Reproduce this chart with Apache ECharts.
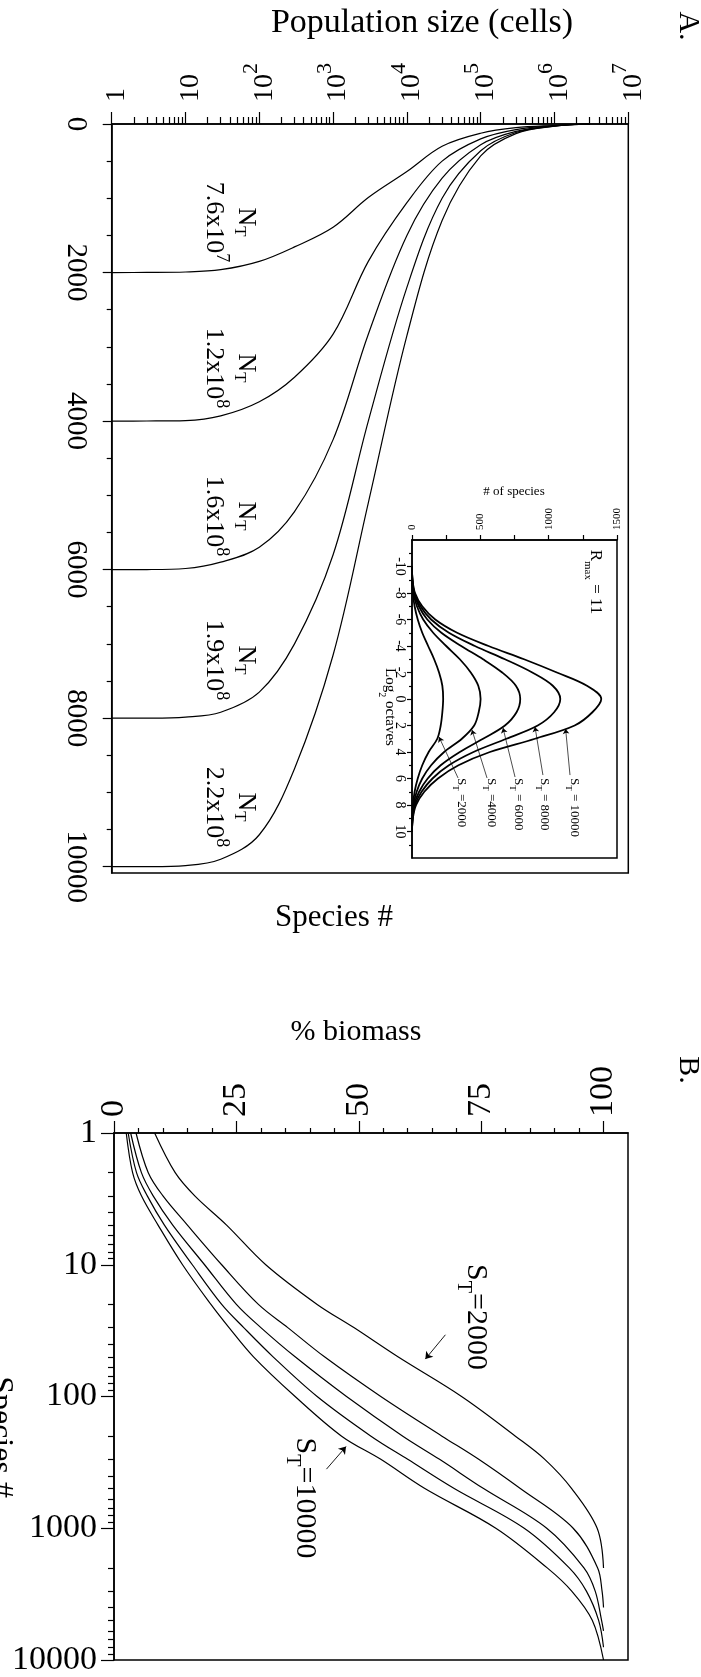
<!DOCTYPE html>
<html>
<head>
<meta charset="utf-8">
<title>Species abundance</title>
<script src="https://cdn.jsdelivr.net/npm/echarts@6.0.0/dist/echarts.min.js"></script>
<style>
html,body{margin:0;padding:0;background:#ffffff;}
#chart{width:701px;height:1677px;}
</style>
</head>
<body>
<div id="chart"></div>
<script>
// ---------------- Panel A: species rank vs population size ----------------
const popLevels   = [3e6, 1e6, 3e5, 1e5, 3e4, 1e4, 3e3, 1e3, 300, 100, 30, 10, 3, 1];
const rankST2000  = [0, 20, 50, 125, 300, 640, 990, 1390, 1655, 1850, 1962, 1993, 1999, 2000];
const rankST4000  = [0, 22, 75, 200, 500, 1060, 1850, 2830, 3410, 3740, 3930, 3993, 3999, 4000];
const rankST6000  = [0, 25, 100, 280, 730, 1500, 2830, 4250, 5220, 5700, 5900, 5985, 5999, 6000];
const rankST8000  = [0, 28, 115, 360, 1000, 2200, 4000, 5800, 7000, 7650, 7920, 7985, 7999, 8000];
const rankST10000 = [0, 30, 130, 430, 1300, 2850, 5100, 7150, 8680, 9570, 9900, 9985, 9999, 10000];
const popTicks      = [1, 10, 100, 1e3, 1e4, 1e5, 1e6, 1e7];
const speciesTicksA = [0, 2000, 4000, 6000, 8000, 10000];
const ntMantissa = ['7.6', '1.2', '1.6', '1.9', '2.2'];
const ntExponent = ['7', '8', '8', '8', '8'];

// ---------------- Inset: species per log2 octave ----------------
const octaves      = [-10, -9, -8, -7, -6, -5, -4, -3, -2, -1, 0, 1, 2, 3, 4, 5, 6, 7, 8, 9, 10];
const countST10000 = [0, 4, 22, 75, 170, 330, 560, 820, 1060, 1280, 1385, 1320, 1190, 900, 570, 340, 190, 90, 30, 6, 0];
const countST8000  = [0, 3, 18, 62, 140, 270, 460, 680, 880, 1030, 1085, 1040, 920, 690, 450, 270, 150, 70, 22, 5, 0];
const countST6000  = [0, 3, 15, 50, 112, 215, 360, 520, 660, 760, 792, 765, 680, 520, 350, 210, 115, 52, 16, 4, 0];
const countST4000  = [0, 2, 11, 36, 82, 155, 250, 350, 430, 485, 502, 488, 455, 365, 235, 140, 75, 34, 11, 3, 0];
const countST2000  = [0, 1, 6, 19, 42, 75, 118, 162, 198, 222, 228, 222, 210, 185, 122, 75, 42, 19, 7, 2, 0];
const insetTotals  = ['10000', '8000', '6000', '4000', '2000'];
const countTicks   = [0, 250, 500, 750, 1000, 1250, 1500];
const countLabels  = [0, 500, 1000, 1500];
const octaveTicks  = [-10, -8, -6, -4, -2, 0, 2, 4, 6, 8, 10];
const octaveMinor  = [-11, -9, -7, -5, -3, -1, 1, 3, 5, 7, 9, 11];

// ---------------- Panel B: cumulative % biomass vs species rank ----------------
const speciesLevelsB = [1, 2, 3, 5, 10, 20, 30, 50, 100, 200, 300, 500, 1000, 2000, 3000, 5000];
const totalSpeciesB  = [2000, 4000, 6000, 8000, 10000];
const biomassST2000  = [8.3, 12.5, 16.5, 23, 31, 41.5, 49, 58, 71, 82, 88, 93.5, 98.7, 100];
const biomassST4000  = [4.5, 7.0, 10, 15, 22, 29.5, 35.5, 43, 54.5, 67, 74.5, 83, 93.8, 98.8, 99.7, 100];
const biomassST6000  = [3.4, 5.6, 8, 12, 18.5, 25, 30, 37, 47.5, 59, 66.5, 75.5, 88.4, 96, 98.3, 99.6, 100];
const biomassST8000  = [2.9, 4.6, 6.8, 10.3, 16, 22, 26.5, 32.5, 41.5, 52.5, 60, 69.5, 83.8, 93, 96.5, 99.0, 100];
const biomassST10000 = [2.5, 3.8, 5.6, 9, 14, 19.8, 23.5, 28.5, 37, 46.5, 54.5, 63.5, 78, 88.5, 93.5, 97.7, 100];
const biomassTicks   = [0, 25, 50, 75, 100];
const speciesTicksB  = [1, 10, 100, 1000, 10000];

// ---------------- helpers ----------------
const F = "'Liberation Serif', 'Times New Roman', serif";
const black = '#000';

const popMinor = [];
for (let d = 1; d < 1e7; d *= 10) for (let k = 2; k < 10; k++) popMinor.push(d * k);
const speciesMinorA = [];
for (let v = 500; v < 10000; v += 500) if (v % 2000) speciesMinorA.push(v);
const biomassMinor = [];
for (let v = 5; v < 100; v += 5) if (v % 25) biomassMinor.push(v);
const speciesMinorB = [];
for (let d = 1; d < 1e4; d *= 10) for (let k = 2; k < 10; k++) speciesMinorB.push(d * k);

const plain = v => String(Math.round(v));

function axis(o) {
  return {
    gridIndex: o.grid, type: o.type || 'value', position: o.position,
    logBase: 10, min: o.min, max: o.max, inverse: !!o.inverse,
    splitLine: {show: false}, minorTick: {show: false}, minorSplitLine: {show: false},
    axisPointer: {show: false},
    axisLine: {show: o.line !== false, onZero: false, lineStyle: {color: black, width: 1.5}},
    axisTick: {show: true, inside: false, length: o.tickLen, customValues: o.ticks,
               lineStyle: {color: black, width: o.tickWidth || 1.2}},
    axisLabel: o.labels ? Object.assign({show: true, color: black, fontFamily: F,
               customValues: o.labels, hideOverlap: false, formatter: plain}, o.labelStyle) : {show: false}
  };
}

function line(xi, yi, data, width) {
  return {type: 'line', xAxisIndex: xi, yAxisIndex: yi, data: data, symbol: 'none', showSymbol: false,
          smooth: 0.35, clip: false, silent: true, lineStyle: {color: black, width: width},
          emphasis: {disabled: true}, z: 3};
}

function arrows(list, width, size) {
  return {silent: true, symbol: ['none', 'arrow'], symbolSize: size, animation: false,
          label: {show: false}, emphasis: {disabled: true},
          lineStyle: {color: black, width: width, type: 'solid'},
          data: list.map(a => [{coord: a[0]}, {coord: a[1]}])};
}

function pow10Label(v) {
  const e = Math.round(Math.log10(v));
  if (e === 0) return '{b|1}';
  if (e === 1) return '{b|10}';
  return '{b|10}{s|' + e + '}';
}

// ---------------- series ----------------
const rankSets = [rankST2000, rankST4000, rankST6000, rankST8000, rankST10000];
const countSets = [countST10000, countST8000, countST6000, countST4000, countST2000];
const biomassSets = [biomassST2000, biomassST4000, biomassST6000, biomassST8000, biomassST10000];

const series = [];
rankSets.forEach(r => series.push(line(0, 0, popLevels.map((p, i) => [p, r[i]]), 1.2)));
countSets.forEach(c => series.push(line(2, 2, octaves.map((o, i) => [c[i], o]), 1.8)));
// inset arrows (data coords: [count, octave])
series[5].markLine = arrows([
  [[1156, 5.74], [1124, 2.26]],
  [[958, 5.74], [900, 2.11]],
  [[754, 5.89], [666, 2.19]],
  [[549, 5.96], [439, 2.34]],
  [[337, 5.96], [198, 2.87]]
], 0.7, 5);
biomassSets.forEach((b, k) => {
  const total = totalSpeciesB[k];
  const lv = speciesLevelsB.filter(s => s < total).concat([total]);
  series.push(line(3, 4, b.map((v, i) => [v, lv[i]]), 1.2));
});
series[10].markLine = arrows([[[67.7, 34], [63.6, 52]]], 0.9, 7);
series[14].markLine = arrows([[[43.4, 356], [47.4, 240]]], 0.9, 7);

// ---------------- text annotations ----------------
function txt(x, y, text, size, rot, rich, align) {
  return {type: 'text', x: x, y: y, rotation: rot ? -Math.PI / 2 : 0, silent: true, z: 10,
          style: {text: text, fill: black, fontFamily: F, fontSize: size,
                  align: align || 'center', verticalAlign: 'middle', rich: rich}};
}
const richNT = {
  n: {fontFamily: F, fontSize: 26, lineHeight: 28, verticalAlign: 'top', fill: black},
  t: {fontFamily: F, fontSize: 17, verticalAlign: 'bottom', fill: black},
  b: {fontFamily: F, fontSize: 26, lineHeight: 30, verticalAlign: 'bottom', fill: black},
  s: {fontFamily: F, fontSize: 18, verticalAlign: 'top', fill: black}
};
const richSmallS = {
  s: {fontFamily: F, fontSize: 13, lineHeight: 17, verticalAlign: 'top', fill: black},
  t: {fontFamily: F, fontSize: 9, verticalAlign: 'bottom', fill: black}
};
const richBigS = {
  s: {fontFamily: F, fontSize: 30, lineHeight: 38, verticalAlign: 'top', fill: black},
  t: {fontFamily: F, fontSize: 20, verticalAlign: 'bottom', fill: black}
};
const richR = {
  r: {fontFamily: F, fontSize: 17, lineHeight: 22, verticalAlign: 'top', fill: black},
  m: {fontFamily: F, fontSize: 11, verticalAlign: 'bottom', fill: black}
};
const richLog = {
  a: {fontFamily: F, fontSize: 15, lineHeight: 20, verticalAlign: 'top', fill: black},
  b: {fontFamily: F, fontSize: 10, verticalAlign: 'bottom', fill: black}
};

const ntLabelX = 230;
const ntLabelY = [222, 368, 516, 660, 807];
const insetLabelX = [572, 542, 516, 489, 459];
const graphics = [
  txt(422, 23, 'Population size (cells)', 34, false),
  txt(688, 26, 'A.', 30, true),
  txt(334, 918, 'Species #', 31, false),
  txt(593, 582, '{r|R}{m|max}{r| = 11}', 17, true, richR),
  txt(514, 492, '# of species', 13, false),
  txt(387, 707, '{a|Log}{b|2}{a| octaves}', 15, true, richLog),
  txt(356, 1032, '% biomass', 30, false),
  txt(688, 1070, 'B.', 30, true),
  txt(472, 1317, '{s|S}{t|T}{s|=2000}', 30, true, richBigS),
  txt(301, 1498, '{s|S}{t|T}{s|=10000}', 30, true, richBigS),
  txt(0, 1437, 'Species #', 32, true)
];
ntMantissa.forEach((m, i) => {
  graphics.push(txt(ntLabelX, ntLabelY[i], '{n|N}{t|T}\n{b|' + m + 'x10}{s|' + ntExponent[i] + '}', 26, true, richNT));
});
insetTotals.forEach((t, i) => {
  const eq = i < 3 ? ' = ' : ' =';
  graphics.push(txt(insetLabelX[i], 778, '{s|S}{t|T}{s|' + eq + t + '}', 13, true, richSmallS, 'left'));
});

// ---------------- option ----------------
const option = {
  animation: false,
  backgroundColor: '#ffffff',
  grid: [
    {left: 111.7, top: 124, width: 516.6, height: 749, show: true, borderColor: black, borderWidth: 1.5, backgroundColor: 'transparent'},
    {left: 412, top: 540, width: 205, height: 318, show: true, borderColor: black, borderWidth: 1.5, backgroundColor: 'transparent'},
    {left: 114, top: 1133, width: 514, height: 533, show: true, borderColor: black, borderWidth: 1.5, backgroundColor: 'transparent'}
  ],
  xAxis: [
    axis({grid: 0, type: 'log', position: 'top', min: 1, max: 1e7, tickLen: 12, ticks: popTicks, labels: popTicks,
          labelStyle: {rotate: -90, margin: 22, fontSize: 28, formatter: pow10Label,
            rich: {b: {fontFamily: F, fontSize: 28, lineHeight: 38, verticalAlign: 'bottom', color: black},
                   s: {fontFamily: F, fontSize: 22, verticalAlign: 'top', color: black}}}}),
    axis({grid: 0, type: 'log', position: 'top', min: 1, max: 1e7, tickLen: 7, ticks: popMinor, line: false}),
    axis({grid: 1, position: 'top', min: 0, max: 1500, tickLen: 5, ticks: countTicks, labels: countLabels,
          labelStyle: {rotate: -90, margin: 10, fontSize: 11}}),
    axis({grid: 2, position: 'top', min: 0, max: 105, tickLen: 12, ticks: biomassTicks, labels: biomassTicks,
          labelStyle: {rotate: -90, margin: 16, fontSize: 34}}),
    axis({grid: 2, position: 'top', min: 0, max: 105, tickLen: 5, ticks: biomassMinor, line: false})
  ],
  yAxis: [
    axis({grid: 0, position: 'left', min: 0, max: 10085, inverse: true, tickLen: 9, ticks: speciesTicksA, labels: speciesTicksA,
          labelStyle: {rotate: -90, margin: 22, fontSize: 29}}),
    axis({grid: 0, position: 'left', min: 0, max: 10085, inverse: true, tickLen: 5, ticks: speciesMinorA, line: false}),
    axis({grid: 1, position: 'left', min: -12, max: 12, inverse: true, tickLen: 5, ticks: octaveTicks, labels: octaveTicks,
          labelStyle: {rotate: -90, margin: 5, fontSize: 14}}),
    axis({grid: 1, position: 'left', min: -12, max: 12, inverse: true, tickLen: 3, ticks: octaveMinor, line: false}),
    axis({grid: 2, type: 'log', position: 'left', min: 1, max: 10000, inverse: true, tickLen: 13, ticks: speciesTicksB, labels: speciesTicksB,
          labelStyle: {margin: 17, fontSize: 34}}),
    axis({grid: 2, type: 'log', position: 'left', min: 1, max: 10000, inverse: true, tickLen: 6, ticks: speciesMinorB, line: false})
  ],
  series: series,
  graphic: graphics
};

const chart = echarts.init(document.getElementById('chart'), null, {renderer: 'canvas', width: 701, height: 1677});
chart.setOption(option);
</script>
</body>
</html>
